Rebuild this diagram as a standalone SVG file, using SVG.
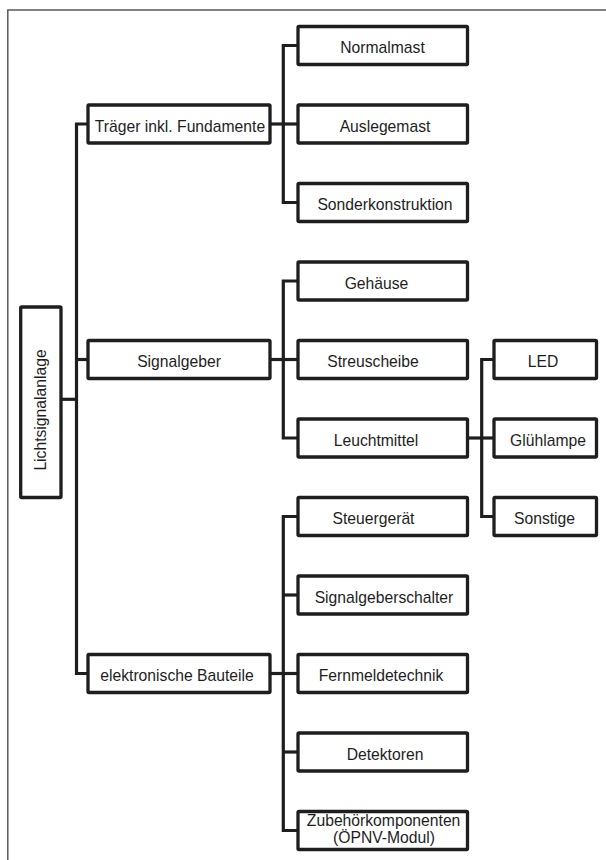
<svg xmlns="http://www.w3.org/2000/svg" width="606" height="860" viewBox="0 0 606 860">
  <style>
    .box { fill: #ffffff; stroke: #1e1e1e; stroke-width: 3.3; }
    .wire { fill: none; stroke: #1e1e1e; stroke-width: 3.2; stroke-linejoin: miter; stroke-linecap: butt; }
    .lbl { font-family: "Liberation Sans", Arial, sans-serif; font-size: 15.7px; fill: #1e1e1e; text-anchor: middle; }
    .frame { fill: none; stroke: #5a5a5a; stroke-width: 1.5; }
  </style>

  <rect width="606" height="860" fill="#ffffff"/>
  <rect class="frame" x="7.8" y="10" width="620" height="880"/>

  <!-- connectors -->
  <g id="connectors">
    <!-- root to trunk -->
    <path class="wire" d="M61 399.3 H76.5"/>
    <!-- trunk with branches to level 1 -->
    <path class="wire" d="M88 124 H76.5 V673.5 H88"/>
    <path class="wire" d="M76.5 359.5 H88"/>
    <!-- Träger inkl. Fundamente -->
    <path class="wire" d="M298 45.5 H283.3 V202.5 H298"/>
    <path class="wire" d="M270 124 H298"/>
    <!-- Signalgeber -->
    <path class="wire" d="M298 281 H283.3 V438 H298"/>
    <path class="wire" d="M270 359.5 H298"/>
    <!-- elektronische Bauteile -->
    <path class="wire" d="M298 516.5 H283.3 V830.5 H298"/>
    <path class="wire" d="M283.3 595 H298"/>
    <path class="wire" d="M270 673.5 H298"/>
    <path class="wire" d="M283.3 752 H298"/>
    <!-- Leuchtmittel -->
    <path class="wire" d="M494 359.5 H481.7 V516.5 H494"/>
    <path class="wire" d="M467.5 438 H494"/>
  </g>

  <!-- root -->
  <g id="lichtsignalanlage">
    <rect class="box" x="20.7" y="307" width="40.3" height="190.5" rx="1"/>
    <text class="lbl" transform="translate(45.5 410) rotate(-90)">Lichtsignalanlage</text>
  </g>

  <!-- level 1 -->
  <g id="traeger">
    <rect class="box" x="88" y="105" width="182" height="38" rx="1"/>
    <text class="lbl" x="180" y="131.8">Träger inkl. Fundamente</text>
  </g>
  <g id="signalgeber">
    <rect class="box" x="88" y="340.5" width="182" height="38" rx="1"/>
    <text class="lbl" x="179" y="367.3">Signalgeber</text>
  </g>
  <g id="elektronische-bauteile">
    <rect class="box" x="88" y="654.5" width="182" height="38" rx="1"/>
    <text class="lbl" x="177" y="681.3">elektronische Bauteile</text>
  </g>

  <!-- level 2 -->
  <g id="normalmast">
    <rect class="box" x="298" y="26.5" width="169.5" height="38" rx="1"/>
    <text class="lbl" x="382.5" y="53.3">Normalmast</text>
  </g>
  <g id="auslegemast">
    <rect class="box" x="298" y="105" width="169.5" height="38" rx="1"/>
    <text class="lbl" x="385" y="131.8">Auslegemast</text>
  </g>
  <g id="sonderkonstruktion">
    <rect class="box" x="298" y="183.5" width="169.5" height="38" rx="1"/>
    <text class="lbl" x="385" y="210.3">Sonderkonstruktion</text>
  </g>
  <g id="gehaeuse">
    <rect class="box" x="298" y="262" width="169.5" height="38" rx="1"/>
    <text class="lbl" x="376.5" y="288.8">Gehäuse</text>
  </g>
  <g id="streuscheibe">
    <rect class="box" x="298" y="340.5" width="169.5" height="38" rx="1"/>
    <text class="lbl" x="373" y="367.3">Streuscheibe</text>
  </g>
  <g id="leuchtmittel">
    <rect class="box" x="298" y="419" width="169.5" height="38" rx="1"/>
    <text class="lbl" x="376" y="445.8">Leuchtmittel</text>
  </g>
  <g id="steuergeraet">
    <rect class="box" x="298" y="497.5" width="169.5" height="38" rx="1"/>
    <text class="lbl" x="373.5" y="524.3">Steuergerät</text>
  </g>
  <g id="signalgeberschalter">
    <rect class="box" x="298" y="576" width="169.5" height="38" rx="1"/>
    <text class="lbl" x="384" y="602.8">Signalgeberschalter</text>
  </g>
  <g id="fernmeldetechnik">
    <rect class="box" x="298" y="654.5" width="169.5" height="38" rx="1"/>
    <text class="lbl" x="381" y="681.3">Fernmeldetechnik</text>
  </g>
  <g id="detektoren">
    <rect class="box" x="298" y="733" width="169.5" height="38" rx="1"/>
    <text class="lbl" x="385" y="759.8">Detektoren</text>
  </g>
  <g id="zubehoerkomponenten">
    <rect class="box" x="298" y="811.5" width="169.5" height="38" rx="1"/>
    <text class="lbl" x="383.6" y="825.5">Zubehörkomponenten</text>
    <text class="lbl" x="384" y="843">(ÖPNV-Modul)</text>
  </g>

  <!-- level 3 -->
  <g id="led">
    <rect class="box" x="494" y="340.5" width="102.5" height="38" rx="1"/>
    <text class="lbl" x="543" y="367.3">LED</text>
  </g>
  <g id="gluehlampe">
    <rect class="box" x="494" y="419" width="102.5" height="38" rx="1"/>
    <text class="lbl" x="548" y="445.8">Glühlampe</text>
  </g>
  <g id="sonstige">
    <rect class="box" x="494" y="497.5" width="102.5" height="38" rx="1"/>
    <text class="lbl" x="544.5" y="524.3">Sonstige</text>
  </g>
</svg>
